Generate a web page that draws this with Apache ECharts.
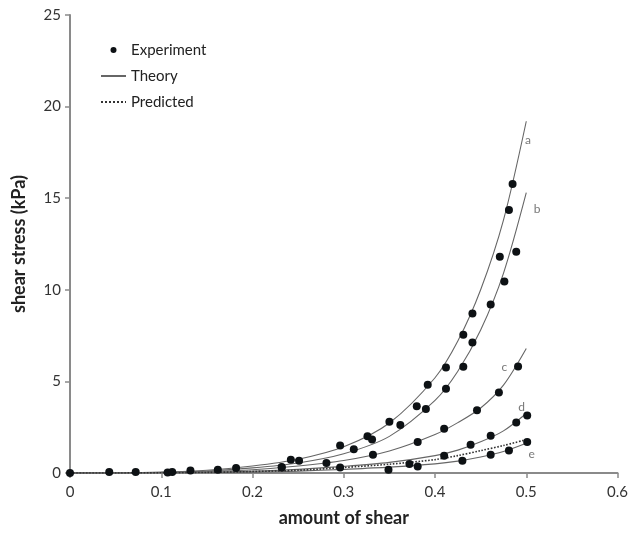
<!DOCTYPE html>
<html>
<head>
<meta charset="utf-8">
<script src="https://cdn.jsdelivr.net/npm/echarts@6/dist/echarts.min.js"></script>
<style>
html,body{margin:0;padding:0;background:#fff;}
#chart{width:631px;height:533px;}
</style>
</head>
<body>
<div id="chart"></div>
<script>
// ---- data ----
const yTicks = [0, 5, 10, 15, 20, 25];
const xTicks = [0, 0.1, 0.2, 0.3, 0.4, 0.5, 0.6];

// Experiment points (amount of shear, shear stress kPa)
const expShared = [[0,0],[0.043,0.05],[0.072,0.05],[0.107,0.03],[0.112,0.06],[0.132,0.13],[0.162,0.18],[0.182,0.27]];
const expA = [[0.242,0.72],[0.296,1.5],[0.326,2.0],[0.350,2.8],[0.380,3.65],[0.392,4.82],[0.412,5.76],[0.431,7.55],[0.441,8.7],[0.471,11.8],[0.481,14.36],[0.485,15.77]];
const expB = [[0.251,0.67],[0.311,1.3],[0.331,1.83],[0.362,2.62],[0.390,3.49],[0.412,4.6],[0.431,5.8],[0.441,7.13],[0.461,9.2],[0.476,10.45],[0.489,12.08]];
const expC = [[0.232,0.33],[0.281,0.54],[0.332,1.0],[0.381,1.69],[0.410,2.42],[0.446,3.42],[0.470,4.4],[0.491,5.82]];
const expD = [[0.232,0.3],[0.296,0.3],[0.410,0.94],[0.439,1.54],[0.461,2.03],[0.489,2.76],[0.501,3.14]];
const expE = [[0.349,0.18],[0.372,0.49],[0.381,0.36],[0.430,0.67],[0.461,1.0],[0.481,1.23],[0.501,1.69]];

// Theory curves sampled at theoryX
const theoryX = [0,0.05,0.1,0.15,0.2,0.25,0.3,0.35,0.4,0.425,0.45,0.475,0.5];
const theoryA = [0,0.01,0.05,0.15,0.38,0.75,1.43,2.73,5.2,7.2,10.0,13.8,19.2];
const theoryB = [0,0.01,0.04,0.11,0.28,0.55,1.05,2.0,3.96,5.55,7.8,10.9,15.3];
const theoryC = [0,0.005,0.03,0.08,0.18,0.38,0.68,1.2,2.1,2.75,3.55,4.8,6.8];
const theoryD = [0,0.003,0.02,0.05,0.1,0.2,0.36,0.58,0.95,1.25,1.7,2.3,3.25];
const theoryE = [0,0.002,0.01,0.025,0.05,0.1,0.2,0.32,0.5,0.65,0.87,1.17,1.62];
const predicted = [0,0.003,0.01,0.03,0.08,0.15,0.3,0.48,0.73,0.95,1.22,1.5,1.82];

// Curve letter labels: [text, x, y]
const curveLabels = [['a',0.502,18.15],['b',0.512,14.4],['c',0.476,5.77],['d',0.495,3.62],['e',0.506,1.05]];

// ---- chart ----
const FONT = 'Lato, "Open Sans", sans-serif';
const pair = ys => theoryX.map((x,i)=>[x, ys[i]]);
const theoryLine = ys => ({
  name:'Theory', type:'line', data: pair(ys), smooth:0.3, symbol:'none',
  itemStyle:{color:'#666'},
  lineStyle:{color:'#666', width:1.1}, z:2, silent:true
});
const expSeries = pts => ({
  name:'Experiment', type:'scatter', data: pts, symbolSize:8,
  itemStyle:{color:'#0d1114', opacity:1}, z:5, silent:true
});

const chart = echarts.init(document.getElementById('chart'), null, {renderer:'canvas'});
chart.setOption({
  animation:false,
  backgroundColor:'#fff',
  grid:{left:70, right:11, top:15, bottom:60, containLabel:false},
  legend:{
    orient:'vertical', left:95, top:36, itemWidth:25, itemHeight:6, itemGap:8,
    textStyle:{fontFamily:FONT, fontSize:15, color:'#222', lineHeight:18},
    data:[
      {name:'Experiment', icon:'circle'},
      {name:'Theory', itemStyle:{opacity:0}},
      {name:'Predicted', itemStyle:{opacity:0}}
    ],
    selectedMode:false
  },
  xAxis:{
    type:'value', min:0, max:0.6, interval:0.1,
    name:'amount of shear', nameLocation:'middle', nameGap:36,
    nameTextStyle:{fontFamily:FONT, fontSize:18, fontWeight:'bold', color:'#222'},
    axisLine:{show:true, lineStyle:{color:'#8a8a8a', width:2}},
    axisTick:{show:true, length:5, lineStyle:{color:'#8a8a8a', width:1.5}},
    axisLabel:{fontFamily:FONT, fontSize:15, color:'#333', margin:12},
    splitLine:{show:false}
  },
  yAxis:{
    type:'value', min:0, max:25, interval:5,
    name:'shear stress (kPa)', nameLocation:'middle', nameGap:42, nameRotate:90,
    nameTextStyle:{fontFamily:FONT, fontSize:18, fontWeight:'bold', color:'#222'},
    axisLine:{show:true, lineStyle:{color:'#8a8a8a', width:2}},
    axisTick:{show:true, length:5, lineStyle:{color:'#8a8a8a', width:1.5}},
    axisLabel:{fontFamily:FONT, fontSize:15, color:'#333', margin:9},
    splitLine:{show:false}
  },
  series:[
    theoryLine(theoryA), theoryLine(theoryB), theoryLine(theoryC), theoryLine(theoryD), theoryLine(theoryE),
    {name:'Predicted', type:'line', data: pair(predicted), smooth:0.3, symbol:'none',
     itemStyle:{color:'#333'},
     lineStyle:{color:'#333', width:1.6, type:'dotted'}, z:3, silent:true},
    expSeries(expShared), expSeries(expA), expSeries(expB), expSeries(expC), expSeries(expD), expSeries(expE),
    {type:'scatter', symbolSize:0, silent:true, z:6,
     data: curveLabels.map(l=>({value:[l[1],l[2]], name:l[0]})),
     label:{show:true, position:'inside', formatter:p=>p.name, fontFamily:FONT, fontSize:12, color:'#555'}}
  ]
});
</script>
</body>
</html>
